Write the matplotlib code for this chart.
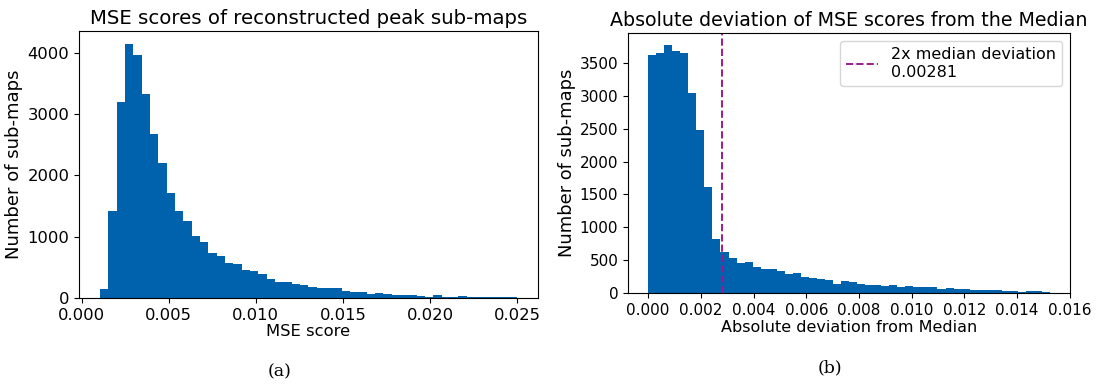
import matplotlib
matplotlib.use("Agg")
import matplotlib.pyplot as plt
import numpy as np

# ── Data ──────────────────────────────────────────────────────────────────────
# (a) MSE scores: 50 equal-width bins between these limits
MSE_MIN, MSE_MAX = 0.00105, 0.02497
mse_counts = [151, 1422, 3189, 4146, 3962, 3319, 2665, 2200, 1703, 1411,
              1249, 1011, 919, 735, 692, 573, 546, 459, 443, 384,
              308, 254, 265, 227, 205, 173, 162, 162, 162, 108,
              103, 92, 70, 76, 65, 43, 43, 49, 38, 22,
              43, 22, 16, 27, 22, 16, 16, 11, 11, 11]

# (b) absolute deviation from the median: 50 equal-width bins
DEV_MIN, DEV_MAX = 0.0, 0.01525
dev_counts = [3622, 3652, 3774, 3688, 3662, 3042, 2477, 1612, 829, 626,
              534, 458, 473, 397, 366, 366, 336, 290, 300, 239,
              229, 219, 203, 142, 178, 163, 132, 127, 122, 112,
              117, 97, 107, 92, 86, 86, 66, 71, 61, 61,
              46, 46, 46, 41, 36, 31, 20, 25, 25, 15]
threshold = 0.00281

BAR_COLOR = "#0061ad"
LINE_COLOR = "#9c1b8c"

plt.rcParams.update({
    "font.family": "DejaVu Sans",
    "font.size": 11,
    "xtick.labelsize": 11,
    "ytick.labelsize": 11,
})


def draw_hist(ax, lo, hi, counts):
    edges = np.linspace(lo, hi, len(counts) + 1)
    centers = (edges[:-1] + edges[1:]) / 2
    ax.hist(centers, bins=edges, weights=counts, color=BAR_COLOR)


fig = plt.figure(figsize=(10.97, 3.86), dpi=100)

# ── (a) ───────────────────────────────────────────────────────────────────────
ax1 = fig.add_axes([0.072, 0.228, 0.418, 0.692])
draw_hist(ax1, MSE_MIN, MSE_MAX, mse_counts)
ax1.set_title("MSE scores of reconstructed peak sub-maps", fontsize=14.2, pad=5)
ax1.set_xlabel("MSE score", fontsize=11.8, labelpad=1)
ax1.set_ylabel("Number of sub-maps", fontsize=13, labelpad=3)
ax1.set_xticks([0.0, 0.005, 0.010, 0.015, 0.020, 0.025])
ax1.set_yticks([0, 1000, 2000, 3000, 4000])
ax1.xaxis.set_major_formatter(matplotlib.ticker.FormatStrFormatter("%.3f"))
ax1.tick_params(labelsize=11.8)

# ── (b) ───────────────────────────────────────────────────────────────────────
ax2 = fig.add_axes([0.5725, 0.241, 0.403, 0.674])
draw_hist(ax2, DEV_MIN, DEV_MAX, dev_counts)
ax2.axvline(threshold, color=LINE_COLOR, linestyle="--", linewidth=1.4,
            label=f"2x median deviation\n{threshold}")
ax2.set_title("Absolute deviation of MSE scores from the Median",
              fontsize=13.7, pad=5)
ax2.set_xlabel("Absolute deviation from Median", fontsize=11.5, labelpad=2)
ax2.set_ylabel("Number of sub-maps", fontsize=12.9, labelpad=3)
ax2.set_xticks(np.arange(0, 0.0161, 0.002))
ax2.xaxis.set_major_formatter(matplotlib.ticker.FormatStrFormatter("%.3f"))
ax2.legend(loc="upper right", fontsize=11.5)

# sub-captions
fig.text(0.255, 0.036, "(a)", family="DejaVu Serif", fontsize=12.5,
         ha="center", va="center")
fig.text(0.757, 0.047, "(b)", family="DejaVu Serif", fontsize=12.5,
         ha="center", va="center")

fig.savefig("out.png", dpi=100)
